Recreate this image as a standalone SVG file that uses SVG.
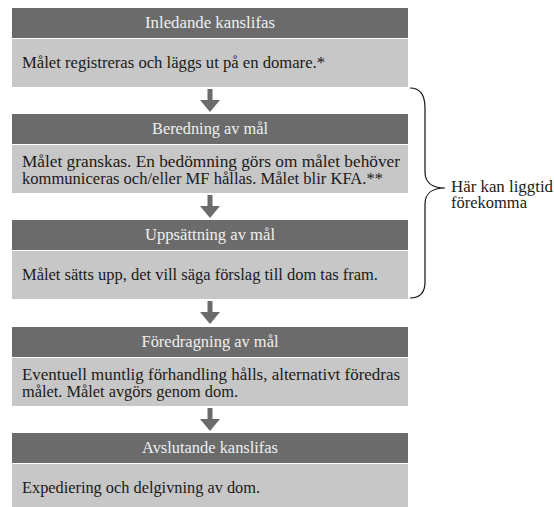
<svg xmlns="http://www.w3.org/2000/svg" width="554" height="507" viewBox="0 0 554 507">
<style>
.hd{fill:#6b6b6b}
.bd{fill:#c7c7c7}
.ht{font-family:'Liberation Serif','Times New Roman',serif;font-size:16px;fill:#f0f0f0;text-anchor:middle}
.bt{font-family:'Liberation Serif','Times New Roman',serif;font-size:16px;fill:#1a1a1a}
.ar{fill:#6b6b6b}
.br{fill:none;stroke:#111;stroke-width:1.2}
.nt{font-family:'Liberation Serif','Times New Roman',serif;font-size:16px;fill:#1a1a1a}
</style>
<rect width="554" height="507" fill="#fff"/>
<g id="stage1">
<rect class="hd" x="12" y="8" width="396" height="30"/>
<text class="ht" x="210" y="28" textLength="130" lengthAdjust="spacingAndGlyphs">Inledande kanslifas</text>
<rect class="bd" x="12" y="39" width="396" height="48"/>
<text class="bt" x="22" y="68" textLength="303" lengthAdjust="spacingAndGlyphs">Målet registreras och läggs ut på en domare.*</text>
</g>
<g id="stage2">
<rect class="hd" x="12" y="114" width="396" height="30"/>
<text class="ht" x="210" y="134" textLength="116" lengthAdjust="spacingAndGlyphs">Beredning av mål</text>
<rect class="bd" x="12" y="145" width="396" height="48"/>
<text class="bt" x="22" y="167" textLength="378" lengthAdjust="spacingAndGlyphs">Målet granskas. En bedömning görs om målet behöver</text>
<text class="bt" x="22" y="184" textLength="361" lengthAdjust="spacingAndGlyphs">kommuniceras och/eller MF hållas. Målet blir KFA.**</text>
</g>
<g id="stage3">
<rect class="hd" x="12" y="220" width="396" height="30"/>
<text class="ht" x="210" y="240" textLength="130" lengthAdjust="spacingAndGlyphs">Uppsättning av mål</text>
<rect class="bd" x="12" y="251" width="396" height="48"/>
<text class="bt" x="22" y="280" textLength="356" lengthAdjust="spacingAndGlyphs">Målet sätts upp, det vill säga förslag till dom tas fram.</text>
</g>
<g id="stage4">
<rect class="hd" x="12" y="327" width="396" height="30"/>
<text class="ht" x="210" y="347" textLength="137" lengthAdjust="spacingAndGlyphs">Föredragning av mål</text>
<rect class="bd" x="12" y="358" width="396" height="48"/>
<text class="bt" x="22" y="380" textLength="378" lengthAdjust="spacingAndGlyphs">Eventuell muntlig förhandling hålls, alternativt föredras</text>
<text class="bt" x="22" y="397" textLength="216" lengthAdjust="spacingAndGlyphs">målet. Målet avgörs genom dom.</text>
</g>
<g id="stage5">
<rect class="hd" x="12" y="433" width="396" height="30"/>
<text class="ht" x="210" y="453" textLength="136" lengthAdjust="spacingAndGlyphs">Avslutande kanslifas</text>
<rect class="bd" x="12" y="464" width="396" height="43"/>
<text class="bt" x="22" y="493" textLength="238" lengthAdjust="spacingAndGlyphs">Expediering och delgivning av dom.</text>
</g>
<g id="note">
<text class="nt" x="451" y="192" textLength="102" lengthAdjust="spacingAndGlyphs">Här kan liggtid</text>
<text class="nt" x="451" y="208" textLength="76" lengthAdjust="spacingAndGlyphs">förekomma</text>
</g>
<g id="connectors">
<path class="ar" d="M207.5,89 h5 v11 h7.5 l-10,12 l-10,-12 h7.5 z"/>
<path class="ar" d="M207.5,195 h5 v11 h7.5 l-10,12 l-10,-12 h7.5 z"/>
<path class="ar" d="M207.5,301 h5 v11 h7.5 l-10,12 l-10,-12 h7.5 z"/>
<path class="ar" d="M207.5,408 h5 v11 h7.5 l-10,12 l-10,-12 h7.5 z"/>
<path class="br" d="M410,88 C420,88 425,95 425,108 L425,172 C425,182 432,188 445,188 C432,188 425,194 425,204 L425,282 C425,292 420,298 410,298"/>
</g>
</svg>
